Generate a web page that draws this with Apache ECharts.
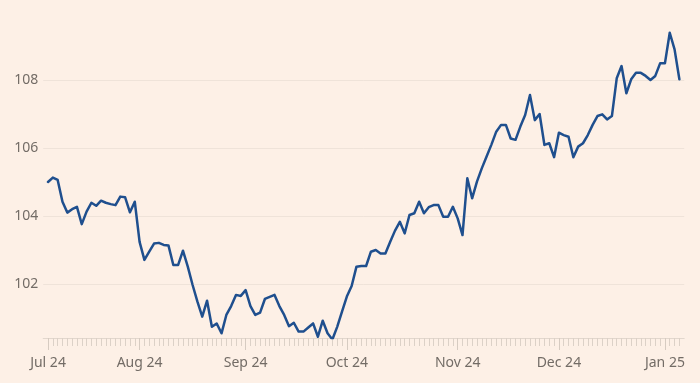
<!DOCTYPE html>
<html><head><meta charset="utf-8">
<script src="https://cdn.jsdelivr.net/npm/echarts@6/dist/echarts.min.js"></script>
<style>html,body{margin:0;padding:0;background:#fdf0e6}#c{width:700px;height:383px}</style>
</head><body><div id="c"></div>
<script>
// Trading days (weekdays) from startDate to endDate
const startDate = '2024-07-05';
const endDate = '2025-01-06';
const tickLabels = ['Jul 24','Aug 24','Sep 24','Oct 24','Nov 24','Dec 24','Jan 25'];
const yTicks = [102, 104, 106, 108];
const values = [
  105.00,105.13,105.06,104.42,104.10,104.20,104.27,103.76,104.13,104.39,
  104.30,104.45,104.39,104.35,104.32,104.57,104.55,104.11,104.42,103.24,
  102.71,102.95,103.19,103.21,103.15,103.13,102.56,102.56,102.98,102.51,
  101.97,101.48,101.04,101.51,100.74,100.84,100.55,101.09,101.35,101.68,
  101.65,101.82,101.35,101.09,101.16,101.56,101.62,101.68,101.35,101.09,
  100.76,100.86,100.60,100.60,100.72,100.84,100.45,100.92,100.55,100.37,
  100.74,101.19,101.63,101.94,102.51,102.53,102.53,102.95,103.00,102.90,
  102.90,103.24,103.57,103.83,103.49,104.03,104.08,104.42,104.08,104.26,
  104.32,104.32,103.98,103.98,104.27,103.93,103.44,105.11,104.52,105.01,
  105.40,105.75,106.10,106.48,106.68,106.68,106.28,106.24,106.63,106.97,
  107.56,106.82,107.00,106.09,106.14,105.73,106.45,106.38,106.33,105.73,
  106.04,106.14,106.38,106.68,106.94,106.99,106.84,106.94,108.05,108.41,
  107.61,108.02,108.21,108.21,108.12,108.00,108.12,108.49,108.49,109.39,
  108.90,108.02
];

const dates = [];
for (let d = new Date(startDate + 'T00:00:00Z'); d <= new Date(endDate + 'T00:00:00Z'); d.setUTCDate(d.getUTCDate() + 1)) {
  const w = d.getUTCDay();
  if (w !== 0 && w !== 6) dates.push(d.toISOString().slice(0, 10));
}
// categories padded by one empty slot on each side
const cats = ['pad-start'].concat(dates, ['pad-end']);
const seriesData = [null].concat(values, [null]);

const labelMap = {};
let m = 0;
dates.forEach((d, i) => {
  if (i === 0 || d.slice(0, 7) !== dates[i - 1].slice(0, 7)) {
    labelMap[i + 1] = tickLabels[m++];
  }
});

const txt = '#736c66';
const font = '"Noto Sans", "DejaVu Sans", sans-serif';
const chart = echarts.init(document.getElementById('c'), null, {renderer: 'canvas'});
chart.setOption({
  backgroundColor: '#fdf0e6',
  animation: false,
  grid: {left: 43.2, right: 15.8, top: 18.8, bottom: 45},
  xAxis: [{
    type: 'category', data: cats, boundaryGap: false, position: 'bottom',
    axisLine: {show: true, lineStyle: {color: '#e2d7cd', width: 1}},
    axisTick: {show: true, length: 8, lineStyle: {color: '#dcd1c7', width: 1},
      interval: (i) => i > 0 && i < cats.length - 1},
    axisLabel: {show: true, color: txt, fontSize: 14, fontFamily: font, margin: 18,
      interval: (i) => labelMap[i] !== undefined,
      formatter: (v, i) => labelMap[i] || ''},
    splitLine: {show: false}
  }, {
    type: 'category', data: cats, boundaryGap: false, position: 'bottom', gridIndex: 0,
    axisLine: {show: false},
    axisTick: {show: true, length: 12, lineStyle: {color: '#d6cbc1', width: 1},
      interval: (i) => labelMap[i] !== undefined},
    axisLabel: {show: false},
    splitLine: {show: false}
  }],
  yAxis: {
    type: 'value', min: 100.412, max: 109.8, splitNumber: 5,
    axisLine: {show: false}, axisTick: {show: false},
    axisLabel: {color: txt, fontSize: 14, fontFamily: font, margin: 5,
      showMinLabel: false, showMaxLabel: false,
      formatter: (v) => yTicks.includes(Math.round(v * 1000) / 1000) ? String(v) : ''},
    splitLine: {show: true, showMinLine: false, showMaxLine: false,
      lineStyle: {color: '#efe3d9', width: 1}}
  },
  series: [{
    type: 'line', xAxisIndex: 0, data: seriesData, symbol: 'none', smooth: false,
    lineStyle: {color: '#1f4f8e', width: 2.5, join: 'round', cap: 'round'}
  }]
});
</script>
</body></html>
